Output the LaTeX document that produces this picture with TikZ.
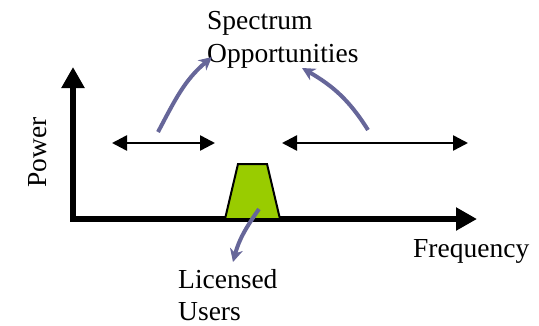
\documentclass[tikz,border=0pt]{standalone}
\usepackage{fontspec}
\setmainfont{Liberation Serif}
\usetikzlibrary{arrows.meta}
\definecolor{puarrow}{RGB}{102,102,153}
\definecolor{pugreen}{RGB}{153,204,0}

\begin{document}
\begin{tikzpicture}[x=1pt,y=1pt,
    lbl/.style={font=\rmfamily\fontsize{27.5}{33}\selectfont, anchor=base west},
    axis/.style={line width=5.5pt, {Triangle[length=21pt,width=22pt]}-{Triangle[length=21pt,width=22pt]}},
    gap/.style={line width=2.5pt, {Triangle[length=15pt,width=15pt]}-{Triangle[length=15pt,width=15pt]}},
    pointer/.style={puarrow, line width=4pt, -{Stealth[length=13pt,width=13pt,inset=4pt]}}]
    \tikzstyle{every node}+=[inner sep=0pt]
    \useasboundingbox (0,0) rectangle (539,-325);
    \coordinate (origin) at (73,-219);
    \coordinate (ytip) at (73,-67);
    \coordinate (xtip) at (477,-219);
    \draw [black, axis] (ytip) |- (xtip);
    \node [lbl, rotate=90] (power) at (46,-188) {Power};
    \node [lbl] (freq) at (413,-257) {Frequency};
    \coordinate (gapal) at (112,-143);
    \coordinate (gapar) at (215,-143);
    \coordinate (gapbl) at (282,-143);
    \coordinate (gapbr) at (468,-143);
    \draw [black, gap] (gapal) -- (gapar);
    \draw [black, gap] (gapbl) -- (gapbr);
    \filldraw [fill=pugreen, draw=black, line width=2pt, line join=miter]
        (225,-219) -- (238,-164) -- (267,-164) -- (280,-219) -- cycle;
    \node [lbl] (spec1) at (207,-29) {Spectrum};
    \node [lbl] (spec2) at (207,-62) {Opportunities};
    \node [lbl] (lic1) at (178,-288) {Licensed};
    \node [lbl] (lic2) at (178,-320) {Users};
    \coordinate (opa) at (158,-132);
    \coordinate (opatip) at (212,-57);
    \coordinate (opb) at (368,-130);
    \coordinate (opbtip) at (302,-68);
    \coordinate (pu) at (259,-209);
    \coordinate (putip) at (233,-262);
    \draw [pointer] (opa) to[out=62, in=220] (opatip);
    \draw [pointer] (opb) to[out=122, in=-30] (opbtip);
    \draw [pointer] (pu) to[out=235, in=75] (putip);
\end{tikzpicture}
\end{document}
